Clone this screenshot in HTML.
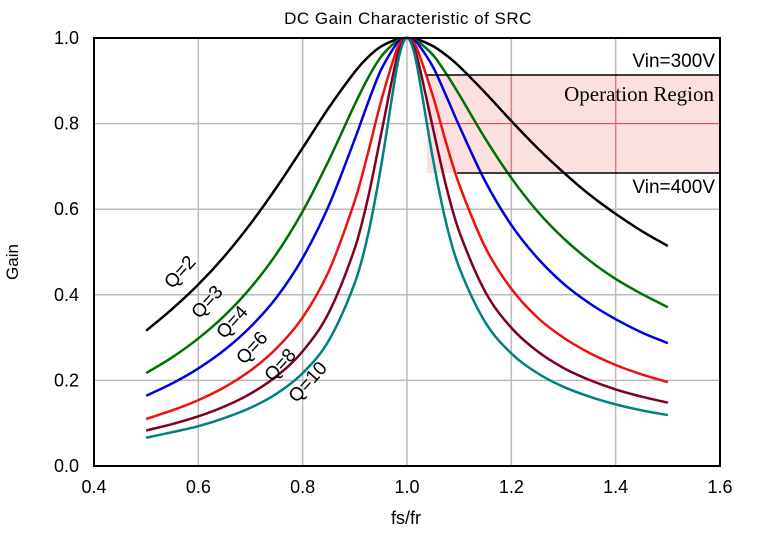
<!DOCTYPE html>
<html><head><meta charset="utf-8"><style>
body{margin:0;background:#fff;width:759px;height:531px;overflow:hidden}
text{font-family:"Liberation Sans",sans-serif}
</style></head><body>
<svg id="chart" width="759" height="531" xmlns="http://www.w3.org/2000/svg">
<g id="grid"></g>
<rect x="427" y="75" width="293" height="98" fill="#fbe0e0"/>
<g id="grid2"></g>
<g id="series"></g>
<g id="labels"></g>
<line x1="427" y1="75" x2="720" y2="75" stroke="#000" stroke-width="1.5"/>
<line x1="457" y1="173" x2="720" y2="173" stroke="#000" stroke-width="1.5"/>
<text x="715" y="67" text-anchor="end" font-size="19">Vin=300V</text>
<text x="714" y="101" text-anchor="end" font-size="21" style="font-family:'Liberation Serif',serif">Operation Region</text>
<text x="715" y="193" text-anchor="end" font-size="19">Vin=400V</text>
<rect x="94" y="38" width="626" height="428" fill="none" stroke="#000" stroke-width="2"/>
<text x="408" y="24" text-anchor="middle" font-size="17" letter-spacing="0.5">DC Gain Characteristic of SRC</text>
<text x="406" y="524" text-anchor="middle" font-size="18">fs/fr</text>
<text transform="translate(18,262) rotate(-90)" text-anchor="middle" font-size="17">Gain</text>
</svg>
<script>
const xTicks=[0.4,0.6,0.8,1.0,1.2,1.4,1.6];
const yTicks=[0.0,0.2,0.4,0.6,0.8,1.0];
const freqs=[0.5,0.55,0.6,0.65,0.7,0.75,0.8,0.85,0.9,0.925,0.95,0.98,0.99,1.0,1.01,1.02,1.05,1.075,1.1,1.15,1.2,1.25,1.3,1.35,1.4,1.45,1.5];
const seriesNames=["Q=2","Q=3","Q=4","Q=6","Q=8","Q=10"];
const gainQ2=[0.316,0.367,0.424,0.490,0.566,0.651,0.743,0.837,0.921,0.955,0.980,0.997,0.999,1,0.999,0.997,0.981,0.960,0.934,0.872,0.806,0.743,0.686,0.634,0.589,0.549,0.514];
const gainQ3=[0.217,0.254,0.298,0.351,0.416,0.496,0.595,0.714,0.845,0.906,0.956,0.993,0.998,1,0.998,0.993,0.960,0.917,0.868,0.765,0.673,0.595,0.532,0.480,0.437,0.402,0.371];
const gainQ4=[0.164,0.193,0.228,0.271,0.325,0.394,0.486,0.608,0.764,0.848,0.925,0.987,0.997,1,0.997,0.988,0.932,0.865,0.795,0.665,0.563,0.486,0.426,0.380,0.343,0.312,0.287];
const gainQ6=[0.110,0.130,0.154,0.184,0.223,0.275,0.347,0.455,0.620,0.730,0.851,0.972,0.993,1,0.993,0.973,0.863,0.755,0.658,0.511,0.414,0.347,0.300,0.264,0.236,0.214,0.196];
const gainQ8=[0.083,0.098,0.116,0.139,0.169,0.210,0.268,0.358,0.509,0.625,0.773,0.952,0.987,1,0.987,0.953,0.788,0.654,0.548,0.407,0.323,0.268,0.229,0.201,0.179,0.162,0.148];
const gainQ10=[0.066,0.079,0.093,0.112,0.136,0.169,0.217,0.293,0.428,0.539,0.698,0.927,0.980,1,0.981,0.930,0.716,0.568,0.464,0.336,0.263,0.217,0.185,0.162,0.144,0.130,0.119];
const allGains=[gainQ2,gainQ3,gainQ4,gainQ6,gainQ8,gainQ10];
const colors=["#000","#007000","#0000e0","#f01010","#800020","#008080"];
const labelPos=[[0.565,0.453],[0.617,0.383],[0.665,0.336],[0.703,0.276],[0.757,0.236],[0.810,0.196]];
const NS="http://www.w3.org/2000/svg";
const X=v=>94+(v-0.4)/1.2*626, Y=v=>466-v*428;
function mk(t,a,p){const e=document.createElementNS(NS,t);for(const k in a)e.setAttribute(k,a[k]);p.appendChild(e);return e;}
const grid=document.getElementById('grid');
xTicks.forEach(v=>{
 const l=mk('line',{x1:X(v),x2:X(v),y1:38,y2:466,stroke:'#bbb','stroke-width':1.5},grid);
 
 
 const t=mk('text',{x:X(v),y:493,'text-anchor':'middle','font-size':18},grid);t.textContent=v.toFixed(1);
 
 
});
yTicks.forEach(v=>{
 const l=mk('line',{x1:94,x2:720,y1:Y(v),y2:Y(v),stroke:'#bbb','stroke-width':1.5},grid);
 
 
 const t=mk('text',{x:79,y:Y(v)+6,'text-anchor':'end','font-size':18},grid);t.textContent=v.toFixed(1);
 
 
});
const g2=document.getElementById('grid2');
const rl=mk('line',{x1:427,x2:720,y1:Y(0.8),y2:Y(0.8),stroke:'#d04040','stroke-width':1},g2);


[1.2,1.4].forEach(v=>{const l=mk('line',{x1:X(v),x2:X(v),y1:75,y2:173,stroke:'#d08080','stroke-width':1.5},g2);
 
 });
function path(xs,ys){
 const n=xs.length;
 const m=xs.map((x,i)=>{const a=Math.max(0,i-1),b=Math.min(n-1,i+1);return (ys[b]-ys[a])/(xs[b]-xs[a]);});
 let d='M'+X(xs[0])+','+Y(ys[0]);
 for(let i=0;i<n-1;i++){
  const dx=(xs[i+1]-xs[i])/3;
  d+=` C${X(xs[i]+dx)},${Y(ys[i]+m[i]*dx)} ${X(xs[i+1]-dx)},${Y(ys[i+1]-m[i+1]*dx)} ${X(xs[i+1])},${Y(ys[i+1])}`;
 }
 return d;
}
const sg=document.getElementById('series'),lg=document.getElementById('labels');
allGains.forEach((g,i)=>{
 const p=mk('path',{d:path(freqs,g),fill:'none',stroke:colors[i],'stroke-width':2.5,'stroke-linejoin':'round'},sg);
 
 
 const [lx,ly]=labelPos[i];
 const t=mk('text',{x:0,y:6,transform:`translate(${X(lx)},${Y(ly)}) rotate(-48)`,'text-anchor':'middle','font-size':19},lg);
 t.textContent=seriesNames[i];
 
 
});
</script>
</body></html>
